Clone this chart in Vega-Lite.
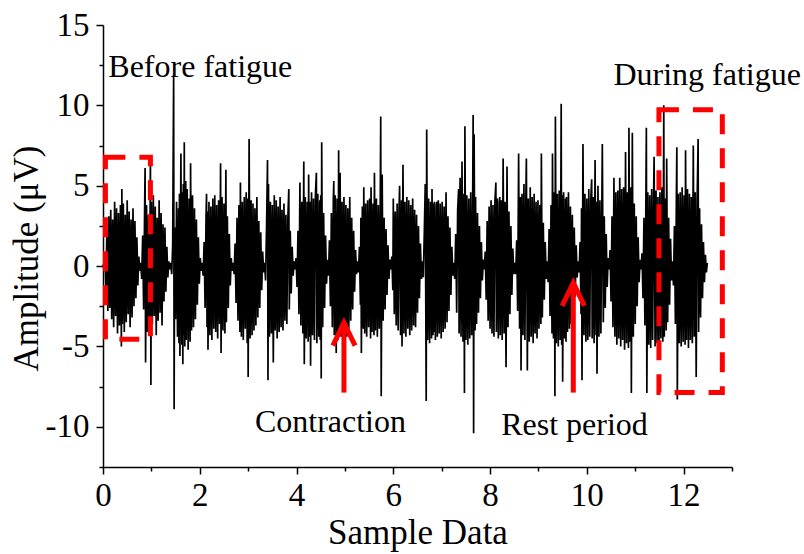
{
"$schema": "https://vega.github.io/schema/vega-lite/v6.json",
"width": 629, "height": 442,
"autosize": {"type": "none"},
"padding": {"left": 103, "top": 25, "right": 72, "bottom": 87},
"config": {"view": {"stroke": null}, "font": "Liberation Serif"},
"datasets": {
"sig": [
{"x":0,"y":0.1},{"x":0.02,"y":-0.2},
{"x":0.04,"y":0.8},{"x":0.06,"y":-1.5},{"x":0.08,"y":2.2},{"x":0.10,"y":-2.8},{"x":0.12,"y":3.1},{"x":0.14,"y":-2.6},{"x":0.16,"y":3.5},{"x":0.18,"y":-3.3},{"x":0.20,"y":2.9},{"x":0.22,"y":-3.8},{"x":0.24,"y":4.0},{"x":0.26,"y":-3.1},{"x":0.28,"y":3.6},{"x":0.30,"y":-4.2},{"x":0.32,"y":3.3},{"x":0.34,"y":-3.7},{"x":0.36,"y":3.8},{"x":0.38,"y":-5.0},{"x":0.39,"y":4.8},{"x":0.40,"y":-3.6},{"x":0.42,"y":3.9},{"x":0.44,"y":-4.1},{"x":0.46,"y":3.2},{"x":0.48,"y":-3.5},{"x":0.50,"y":4.1},{"x":0.52,"y":-3.0},{"x":0.54,"y":3.4},{"x":0.56,"y":-3.8},{"x":0.58,"y":2.9},{"x":0.60,"y":-3.2},{"x":0.62,"y":3.6},{"x":0.64,"y":-2.5},{"x":0.66,"y":2.8},{"x":0.68,"y":-2.0},{"x":0.70,"y":1.8},{"x":0.72,"y":-1.2},{"x":0.74,"y":0.6},{"x":0.76,"y":-0.3},{"x":0.78,"y":0.2},
{"x":0.80,"y":-0.8},{"x":0.82,"y":1.9},{"x":0.84,"y":-2.7},{"x":0.86,"y":3.5},{"x":0.87,"y":6.1},{"x":0.88,"y":-6.0},{"x":0.90,"y":3.8},{"x":0.92,"y":-4.1},{"x":0.94,"y":3.2},{"x":0.96,"y":-3.9},{"x":0.98,"y":6.8},{"x":0.99,"y":-7.4},{"x":1.00,"y":4.0},{"x":1.02,"y":-3.6},{"x":1.04,"y":4.4},{"x":1.06,"y":-3.1},{"x":1.08,"y":3.7},{"x":1.10,"y":-4.3},{"x":1.12,"y":3.0},{"x":1.14,"y":-3.4},{"x":1.16,"y":4.1},{"x":1.18,"y":-2.9},{"x":1.20,"y":3.3},{"x":1.22,"y":-3.7},{"x":1.24,"y":2.6},{"x":1.26,"y":-2.2},{"x":1.28,"y":2.4},{"x":1.30,"y":-1.6},{"x":1.32,"y":1.2},{"x":1.34,"y":-0.7},{"x":1.36,"y":0.3},{"x":1.38,"y":-0.2},{"x":1.40,"y":0.2},
{"x":1.42,"y":-0.5},{"x":1.44,"y":1.3},{"x":1.46,"y":11.9},{"x":1.47,"y":-8.9},{"x":1.48,"y":2.4},{"x":1.50,"y":-3.3},{"x":1.52,"y":4.0},{"x":1.54,"y":-4.4},{"x":1.56,"y":3.6},{"x":1.57,"y":-4.8},{"x":1.58,"y":4.5},{"x":1.59,"y":-5.6},{"x":1.61,"y":7.0},{"x":1.63,"y":-4.9},{"x":1.64,"y":4.6},{"x":1.65,"y":-6.1},{"x":1.66,"y":5.1},{"x":1.67,"y":-4.3},{"x":1.68,"y":7.7},{"x":1.69,"y":-5.0},{"x":1.71,"y":5.3},{"x":1.72,"y":-4.6},{"x":1.74,"y":4.8},{"x":1.76,"y":-5.2},{"x":1.78,"y":4.2},{"x":1.80,"y":-4.7},{"x":1.81,"y":6.4},{"x":1.83,"y":-4.0},{"x":1.85,"y":4.4},{"x":1.87,"y":-3.8},{"x":1.89,"y":3.6},{"x":1.91,"y":-3.3},{"x":1.93,"y":2.9},{"x":1.95,"y":-2.4},{"x":1.97,"y":1.8},{"x":1.99,"y":-1.1},{"x":2.01,"y":0.5},{"x":2.03,"y":-0.3},{"x":2.05,"y":0.2},
{"x":2.07,"y":-0.6},{"x":2.09,"y":1.5},{"x":2.11,"y":-2.6},{"x":2.13,"y":3.2},{"x":2.14,"y":4.5},{"x":2.15,"y":-3.8},{"x":2.16,"y":3.4},{"x":2.17,"y":-5.2},{"x":2.19,"y":4.0},{"x":2.21,"y":-4.3},{"x":2.23,"y":3.7},{"x":2.25,"y":-4.6},{"x":2.27,"y":4.2},{"x":2.29,"y":-3.9},{"x":2.31,"y":4.4},{"x":2.33,"y":-4.1},{"x":2.35,"y":3.8},{"x":2.37,"y":-4.5},{"x":2.39,"y":4.1},{"x":2.41,"y":-3.6},{"x":2.43,"y":6.4},{"x":2.44,"y":-5.4},{"x":2.46,"y":4.3},{"x":2.48,"y":-4.0},{"x":2.50,"y":3.9},{"x":2.52,"y":-4.2},{"x":2.54,"y":6.0},{"x":2.55,"y":-3.5},{"x":2.57,"y":3.1},{"x":2.59,"y":-2.6},{"x":2.61,"y":2.0},{"x":2.63,"y":-1.2},{"x":2.65,"y":0.5},{"x":2.67,"y":-0.3},{"x":2.69,"y":0.2},
{"x":2.71,"y":-0.5},{"x":2.73,"y":1.4},{"x":2.75,"y":-2.3},{"x":2.77,"y":3.0},{"x":2.79,"y":-3.4},{"x":2.81,"y":3.8},{"x":2.83,"y":-4.1},{"x":2.84,"y":5.2},{"x":2.86,"y":-4.4},{"x":2.88,"y":4.0},{"x":2.90,"y":-4.6},{"x":2.92,"y":4.3},{"x":2.94,"y":-3.9},{"x":2.96,"y":4.6},{"x":2.98,"y":-4.8},{"x":2.99,"y":4.2},{"x":3.00,"y":-6.9},{"x":3.02,"y":7.9},{"x":3.04,"y":-4.5},{"x":3.06,"y":4.1},{"x":3.08,"y":-4.3},{"x":3.10,"y":3.9},{"x":3.12,"y":-4.0},{"x":3.14,"y":3.6},{"x":3.16,"y":-3.7},{"x":3.18,"y":4.3},{"x":3.20,"y":-3.2},{"x":3.22,"y":2.8},{"x":3.24,"y":-2.6},{"x":3.26,"y":2.1},{"x":3.28,"y":-1.5},{"x":3.30,"y":0.9},{"x":3.32,"y":-0.4},{"x":3.34,"y":0.2},
{"x":3.36,"y":-0.9},{"x":3.38,"y":2.4},{"x":3.40,"y":6.6},{"x":3.41,"y":-7.1},{"x":3.42,"y":5.1},{"x":3.44,"y":-4.4},{"x":3.46,"y":4.0},{"x":3.48,"y":-4.2},{"x":3.50,"y":3.8},{"x":3.52,"y":-6.0},{"x":3.54,"y":4.4},{"x":3.56,"y":-4.0},{"x":3.58,"y":4.1},{"x":3.60,"y":-4.5},{"x":3.62,"y":3.7},{"x":3.64,"y":-4.1},{"x":3.66,"y":4.3},{"x":3.68,"y":-3.8},{"x":3.70,"y":3.5},{"x":3.72,"y":-4.0},{"x":3.74,"y":3.9},{"x":3.76,"y":-3.4},{"x":3.78,"y":3.2},{"x":3.80,"y":-3.6},{"x":3.82,"y":2.9},{"x":3.84,"y":4.8},{"x":3.85,"y":-2.7},{"x":3.87,"y":2.2},{"x":3.89,"y":-1.7},{"x":3.91,"y":1.2},{"x":3.93,"y":-0.6},{"x":3.95,"y":0.3},{"x":3.97,"y":-0.2},
{"x":3.99,"y":0.5},{"x":4.01,"y":-1.3},{"x":4.03,"y":2.2},{"x":4.05,"y":-3.0},{"x":4.07,"y":5.2},{"x":4.09,"y":-3.7},{"x":4.11,"y":4.0},{"x":4.13,"y":-4.2},{"x":4.15,"y":6.5},{"x":4.16,"y":-6.1},{"x":4.18,"y":4.3},{"x":4.20,"y":-4.5},{"x":4.22,"y":4.0},{"x":4.24,"y":-4.7},{"x":4.25,"y":5.7},{"x":4.27,"y":-4.4},{"x":4.28,"y":4.0},{"x":4.29,"y":-6.2},{"x":4.31,"y":4.6},{"x":4.33,"y":-4.3},{"x":4.35,"y":4.2},{"x":4.37,"y":-4.6},{"x":4.39,"y":4.4},{"x":4.41,"y":5.8},{"x":4.42,"y":-4.8},{"x":4.44,"y":4.5},{"x":4.46,"y":-4.4},{"x":4.48,"y":4.1},{"x":4.49,"y":-4.6},{"x":4.50,"y":4.4},{"x":4.51,"y":-7.0},{"x":4.52,"y":7.7},{"x":4.54,"y":-3.8},{"x":4.56,"y":3.3},{"x":4.58,"y":-2.6},{"x":4.60,"y":1.9},{"x":4.62,"y":-1.1},{"x":4.64,"y":0.4},
{"x":4.66,"y":-0.6},{"x":4.68,"y":1.6},{"x":4.70,"y":-2.5},{"x":4.72,"y":3.3},{"x":4.74,"y":-3.8},{"x":4.76,"y":4.1},{"x":4.77,"y":5.3},{"x":4.78,"y":-4.3},{"x":4.80,"y":4.4},{"x":4.82,"y":-5.4},{"x":4.84,"y":4.2},{"x":4.86,"y":-4.6},{"x":4.87,"y":7.2},{"x":4.88,"y":-4.0},{"x":4.90,"y":5.8},{"x":4.92,"y":-4.4},{"x":4.94,"y":4.0},{"x":4.96,"y":-4.7},{"x":4.98,"y":4.3},{"x":5.00,"y":-4.1},{"x":5.02,"y":3.8},{"x":5.04,"y":-4.4},{"x":5.06,"y":3.6},{"x":5.08,"y":-3.9},{"x":5.10,"y":4.3},{"x":5.12,"y":-3.4},{"x":5.14,"y":3.0},{"x":5.16,"y":-2.7},{"x":5.18,"y":2.2},{"x":5.20,"y":-1.6},{"x":5.22,"y":1.0},{"x":5.24,"y":-0.5},{"x":5.26,"y":0.3},
{"x":5.28,"y":-0.4},{"x":5.30,"y":1.2},{"x":5.32,"y":-2.4},{"x":5.33,"y":3.0},{"x":5.34,"y":-5.4},{"x":5.36,"y":3.7},{"x":5.38,"y":-3.9},{"x":5.39,"y":4.9},{"x":5.41,"y":-4.2},{"x":5.43,"y":3.9},{"x":5.45,"y":-4.4},{"x":5.47,"y":4.1},{"x":5.49,"y":-3.8},{"x":5.51,"y":4.2},{"x":5.53,"y":-4.5},{"x":5.54,"y":4.9},{"x":5.56,"y":-4.1},{"x":5.58,"y":3.9},{"x":5.60,"y":-4.3},{"x":5.61,"y":5.8},{"x":5.63,"y":-4.0},{"x":5.65,"y":4.2},{"x":5.67,"y":-4.4},{"x":5.69,"y":3.8},{"x":5.71,"y":-3.9},{"x":5.73,"y":4.0},{"x":5.74,"y":9.3},{"x":5.75,"y":-8.1},{"x":5.77,"y":5.7},{"x":5.79,"y":-3.4},{"x":5.81,"y":3.0},{"x":5.83,"y":-2.7},{"x":5.85,"y":2.3},{"x":5.87,"y":-1.8},{"x":5.89,"y":1.3},{"x":5.91,"y":-0.8},{"x":5.93,"y":0.4},{"x":5.95,"y":-0.2},
{"x":5.97,"y":0.6},{"x":5.99,"y":-1.5},{"x":6.00,"y":4.2},{"x":6.02,"y":-3.0},{"x":6.04,"y":3.4},{"x":6.06,"y":-3.7},{"x":6.08,"y":3.9},{"x":6.10,"y":-4.0},{"x":6.12,"y":3.7},{"x":6.13,"y":5.0},{"x":6.15,"y":-4.3},{"x":6.17,"y":4.1},{"x":6.18,"y":-5.0},{"x":6.20,"y":6.3},{"x":6.22,"y":-4.2},{"x":6.24,"y":4.0},{"x":6.26,"y":-4.4},{"x":6.28,"y":4.3},{"x":6.30,"y":-3.9},{"x":6.32,"y":4.1},{"x":6.34,"y":-4.3},{"x":6.36,"y":3.8},{"x":6.38,"y":-4.0},{"x":6.40,"y":4.2},{"x":6.42,"y":-3.7},{"x":6.44,"y":3.5},{"x":6.46,"y":-3.8},{"x":6.48,"y":3.2},{"x":6.50,"y":-2.9},{"x":6.52,"y":2.5},{"x":6.54,"y":-2.0},{"x":6.56,"y":1.4},{"x":6.58,"y":-0.8},{"x":6.60,"y":0.3},
{"x":6.62,"y":-0.7},{"x":6.64,"y":2.0},{"x":6.66,"y":5.1},{"x":6.68,"y":-8.4},{"x":6.69,"y":8.5},{"x":6.71,"y":-4.6},{"x":6.73,"y":4.2},{"x":6.75,"y":-4.8},{"x":6.77,"y":4.0},{"x":6.79,"y":-4.5},{"x":6.80,"y":4.8},{"x":6.82,"y":-4.3},{"x":6.83,"y":3.9},{"x":6.84,"y":-4.1},{"x":6.85,"y":4.0},{"x":6.87,"y":-4.6},{"x":6.89,"y":3.8},{"x":6.90,"y":4.0},{"x":6.91,"y":-4.4},{"x":6.93,"y":4.1},{"x":6.95,"y":-4.2},{"x":6.97,"y":3.9},{"x":6.99,"y":-4.5},{"x":7.01,"y":4.0},{"x":7.03,"y":-4.1},{"x":7.05,"y":3.7},{"x":7.07,"y":-3.9},{"x":7.09,"y":4.6},{"x":7.11,"y":-3.5},{"x":7.13,"y":3.1},{"x":7.15,"y":-2.8},{"x":7.17,"y":2.4},{"x":7.19,"y":-1.8},{"x":7.21,"y":1.2},{"x":7.23,"y":-0.6},{"x":7.25,"y":0.2},
{"x":7.27,"y":-0.8},{"x":7.29,"y":2.0},{"x":7.31,"y":-2.9},{"x":7.33,"y":3.5},{"x":7.35,"y":4.8},{"x":7.36,"y":-4.2},{"x":7.38,"y":5.5},{"x":7.40,"y":-4.4},{"x":7.42,"y":6.5},{"x":7.44,"y":-4.7},{"x":7.46,"y":4.5},{"x":7.47,"y":-7.9},{"x":7.48,"y":8.7},{"x":7.50,"y":-4.6},{"x":7.52,"y":4.4},{"x":7.54,"y":-4.9},{"x":7.56,"y":4.2},{"x":7.58,"y":-4.5},{"x":7.60,"y":4.6},{"x":7.62,"y":-4.3},{"x":7.64,"y":4.1},{"x":7.65,"y":9.4},{"x":7.66,"y":-10.4},{"x":7.67,"y":8.2},{"x":7.69,"y":-4.0},{"x":7.70,"y":4.3},{"x":7.72,"y":-3.6},{"x":7.74,"y":3.3},{"x":7.76,"y":-2.9},{"x":7.78,"y":2.5},{"x":7.80,"y":-2.0},{"x":7.82,"y":1.5},{"x":7.84,"y":-0.9},{"x":7.86,"y":0.4},{"x":7.88,"y":-0.2},
{"x":7.90,"y":0.9},{"x":7.92,"y":-2.1},{"x":7.94,"y":2.8},{"x":7.96,"y":-3.4},{"x":7.98,"y":3.7},{"x":8.00,"y":-3.9},{"x":8.02,"y":4.1},{"x":8.04,"y":-4.2},{"x":8.06,"y":3.8},{"x":8.08,"y":-4.4},{"x":8.10,"y":4.0},{"x":8.12,"y":5.2},{"x":8.13,"y":-4.1},{"x":8.15,"y":4.2},{"x":8.17,"y":-4.5},{"x":8.19,"y":3.9},{"x":8.20,"y":4.3},{"x":8.21,"y":-4.3},{"x":8.23,"y":4.1},{"x":8.25,"y":-4.6},{"x":8.27,"y":6.7},{"x":8.29,"y":-4.2},{"x":8.31,"y":4.0},{"x":8.33,"y":-6.3},{"x":8.35,"y":6.2},{"x":8.37,"y":-3.8},{"x":8.39,"y":3.4},{"x":8.41,"y":-3.0},{"x":8.43,"y":2.5},{"x":8.45,"y":-1.8},{"x":8.47,"y":1.1},{"x":8.49,"y":-0.5},{"x":8.51,"y":0.2},
{"x":8.53,"y":-0.5},{"x":8.55,"y":1.6},{"x":8.57,"y":-2.8},{"x":8.59,"y":7.0},{"x":8.61,"y":-3.9},{"x":8.63,"y":4.3},{"x":8.64,"y":-6.5},{"x":8.66,"y":4.5},{"x":8.68,"y":-4.3},{"x":8.70,"y":5.1},{"x":8.72,"y":-4.6},{"x":8.74,"y":4.4},{"x":8.75,"y":6.7},{"x":8.77,"y":-6.5},{"x":8.79,"y":4.2},{"x":8.81,"y":-4.7},{"x":8.83,"y":4.9},{"x":8.85,"y":-4.4},{"x":8.87,"y":4.3},{"x":8.89,"y":-4.8},{"x":8.91,"y":4.5},{"x":8.93,"y":-4.2},{"x":8.95,"y":4.0},{"x":8.97,"y":-4.5},{"x":8.99,"y":4.1},{"x":9.01,"y":-3.9},{"x":9.03,"y":3.8},{"x":9.05,"y":-3.6},{"x":9.06,"y":7.0},{"x":9.08,"y":-3.2},{"x":9.10,"y":2.7},{"x":9.12,"y":-2.1},{"x":9.14,"y":1.5},{"x":9.16,"y":-0.8},{"x":9.18,"y":0.3},
{"x":9.20,"y":-1.0},{"x":9.22,"y":2.3},{"x":9.24,"y":-3.1},{"x":9.26,"y":3.8},{"x":9.28,"y":-4.2},{"x":9.29,"y":7.0},{"x":9.31,"y":-4.5},{"x":9.33,"y":4.6},{"x":9.34,"y":-8.1},{"x":9.35,"y":9.3},{"x":9.37,"y":-4.8},{"x":9.39,"y":4.5},{"x":9.41,"y":-5.0},{"x":9.43,"y":4.7},{"x":9.45,"y":-4.6},{"x":9.47,"y":10.1},{"x":9.48,"y":-4.9},{"x":9.49,"y":4.4},{"x":9.50,"y":-7.2},{"x":9.52,"y":4.6},{"x":9.54,"y":-4.5},{"x":9.56,"y":4.2},{"x":9.57,"y":-4.7},{"x":9.58,"y":4.3},{"x":9.60,"y":-4.1},{"x":9.62,"y":4.6},{"x":9.64,"y":-3.9},{"x":9.66,"y":3.7},{"x":9.68,"y":-3.6},{"x":9.70,"y":3.2},{"x":9.72,"y":-2.9},{"x":9.74,"y":2.4},{"x":9.76,"y":-1.9},{"x":9.78,"y":1.3},{"x":9.80,"y":-0.7},{"x":9.82,"y":0.3},
{"x":9.84,"y":-0.4},{"x":9.86,"y":1.5},{"x":9.88,"y":-3.0},{"x":9.89,"y":3.6},{"x":9.90,"y":-7.1},{"x":9.92,"y":7.6},{"x":9.94,"y":-4.3},{"x":9.96,"y":4.5},{"x":9.98,"y":-4.7},{"x":10.00,"y":4.2},{"x":10.02,"y":-4.6},{"x":10.04,"y":4.8},{"x":10.06,"y":-4.4},{"x":10.08,"y":4.1},{"x":10.10,"y":5.4},{"x":10.11,"y":-4.5},{"x":10.13,"y":4.3},{"x":10.15,"y":-4.8},{"x":10.17,"y":6.6},{"x":10.19,"y":-4.3},{"x":10.20,"y":4.0},{"x":10.21,"y":-6.7},{"x":10.23,"y":5.0},{"x":10.25,"y":-4.4},{"x":10.27,"y":4.1},{"x":10.29,"y":-4.2},{"x":10.31,"y":3.9},{"x":10.32,"y":7.6},{"x":10.34,"y":-3.5},{"x":10.36,"y":3.1},{"x":10.38,"y":-2.6},{"x":10.40,"y":2.0},{"x":10.42,"y":-1.3},{"x":10.44,"y":0.5},{"x":10.46,"y":-0.2},
{"x":10.48,"y":1.0},{"x":10.50,"y":-2.2},{"x":10.52,"y":3.1},{"x":10.54,"y":-3.8},{"x":10.56,"y":5.5},{"x":10.58,"y":-4.4},{"x":10.60,"y":4.6},{"x":10.62,"y":-4.9},{"x":10.64,"y":4.7},{"x":10.66,"y":-4.5},{"x":10.68,"y":5.5},{"x":10.70,"y":-5.0},{"x":10.72,"y":4.8},{"x":10.74,"y":-4.6},{"x":10.76,"y":4.9},{"x":10.78,"y":-5.2},{"x":10.80,"y":7.1},{"x":10.82,"y":-4.8},{"x":10.84,"y":4.6},{"x":10.86,"y":-5.1},{"x":10.87,"y":8.6},{"x":10.89,"y":-4.7},{"x":10.91,"y":4.9},{"x":10.92,"y":-7.9},{"x":10.94,"y":8.3},{"x":10.96,"y":-4.4},{"x":10.98,"y":3.9},{"x":11.00,"y":-3.6},{"x":11.02,"y":3.1},{"x":11.04,"y":-2.5},{"x":11.06,"y":1.8},{"x":11.08,"y":-1.0},{"x":11.10,"y":0.4},{"x":11.12,"y":-0.2},
{"x":11.14,"y":0.8},{"x":11.16,"y":-2.0},{"x":11.18,"y":3.0},{"x":11.20,"y":-3.7},{"x":11.22,"y":4.1},{"x":11.23,"y":8.6},{"x":11.24,"y":-7.9},{"x":11.26,"y":4.6},{"x":11.28,"y":-4.9},{"x":11.30,"y":4.4},{"x":11.32,"y":-5.1},{"x":11.34,"y":4.8},{"x":11.36,"y":-4.6},{"x":11.38,"y":4.5},{"x":11.39,"y":6.8},{"x":11.41,"y":-5.0},{"x":11.43,"y":4.7},{"x":11.45,"y":-4.8},{"x":11.47,"y":4.3},{"x":11.49,"y":-5.2},{"x":11.51,"y":4.6},{"x":11.53,"y":-4.5},{"x":11.55,"y":4.9},{"x":11.57,"y":-4.7},{"x":11.59,"y":10.0},{"x":11.60,"y":-4.4},{"x":11.62,"y":4.2},{"x":11.64,"y":-4.0},{"x":11.65,"y":6.7},{"x":11.67,"y":-3.5},{"x":11.69,"y":3.0},{"x":11.71,"y":-2.4},{"x":11.73,"y":1.7},{"x":11.75,"y":-0.9},{"x":11.77,"y":0.3},
{"x":11.79,"y":-1.2},{"x":11.81,"y":2.5},{"x":11.83,"y":-3.6},{"x":11.85,"y":4.2},{"x":11.86,"y":7.4},{"x":11.87,"y":-8.3},{"x":11.89,"y":4.5},{"x":11.91,"y":-4.8},{"x":11.93,"y":4.6},{"x":11.95,"y":-5.0},{"x":11.97,"y":4.9},{"x":11.99,"y":-4.7},{"x":12.01,"y":4.4},{"x":12.03,"y":-4.9},{"x":12.04,"y":7.2},{"x":12.06,"y":-4.6},{"x":12.08,"y":4.8},{"x":12.10,"y":-5.1},{"x":12.12,"y":4.5},{"x":12.14,"y":-4.6},{"x":12.16,"y":4.3},{"x":12.18,"y":-4.8},{"x":12.20,"y":7.5},{"x":12.22,"y":-4.4},{"x":12.24,"y":4.6},{"x":12.26,"y":-6.9},{"x":12.28,"y":4.2},{"x":12.30,"y":7.9},{"x":12.31,"y":-4.1},{"x":12.33,"y":3.6},{"x":12.35,"y":-3.2},{"x":12.37,"y":2.6},{"x":12.39,"y":-2.0},{"x":12.41,"y":1.5},{"x":12.43,"y":-1.0},{"x":12.45,"y":0.7},{"x":12.47,"y":-0.4},{"x":12.49,"y":0.2}
],
"boxes": [{"x":0.05,"x2":0.98,"y":6.77,"y2":-4.55},{"x":11.49,"x2":12.8,"y":9.73,"y2":-7.87}],
"shafts": [{"x":4.98,"y":-3.7,"y2":-7.87},{"x":9.72,"y":-1.2,"y2":-7.87}],
"heads": [{"g":1,"x":4.75,"y":-4.95},{"g":1,"x":4.98,"y":-3.52},{"g":1,"x":5.21,"y":-4.95},{"g":2,"x":9.49,"y":-2.47},{"g":2,"x":9.72,"y":-1.04},{"g":2,"x":9.95,"y":-2.47}],
"notes": [{"x":0.11,"y":11.74,"t":"Before fatigue"},{"x":10.55,"y":11.29,"t":"During fatigue"},{"x":3.14,"y":-10.3,"t":"Contraction"},{"x":8.23,"y":-10.5,"t":"Rest period"}]
},
"encoding": {
"x": {"field":"x","type":"quantitative","scale":{"domain":[0,13],"nice":false,"zero":false},
 "axis":{"title":"Sample Data","values":[0,1,2,3,4,5,6,7,8,9,10,11,12,13],"labelExpr":"datum.value % 2 === 0 ? '' + datum.value : ''","grid":false,"labelOverlap":false,"labelFlush":false,"labelBound":false,
 "domainColor":"black","domainWidth":1.5,"tickColor":"black","tickWidth":1.5,"tickSize":{"condition":{"test":"datum.value % 2 === 0","value":7},"value":4},
 "labelFont":"Liberation Serif","labelFontSize":33,"labelColor":"black","labelPadding":5,
 "titleFont":"Liberation Serif","titleFontSize":35,"titleFontWeight":"normal","titleColor":"black","titlePadding":3}},
"y": {"field":"y","type":"quantitative","scale":{"domain":[-12.5,15],"nice":false,"zero":false},
 "axis":{"title":"Amplitude (μV)","values":[-12.5,-10,-7.5,-5,-2.5,0,2.5,5,7.5,10,12.5,15],"labelExpr":"datum.value % 5 === 0 ? '' + datum.value : ''","grid":false,"labelOverlap":false,"labelFlush":false,"labelBound":false,
 "domainColor":"black","domainWidth":1.5,"tickColor":"black","tickWidth":1.5,"tickSize":{"condition":{"test":"datum.value % 5 === 0","value":7},"value":4},
 "labelFont":"Liberation Serif","labelFontSize":33,"labelColor":"black","labelPadding":7,
 "titleFont":"Liberation Serif","titleFontSize":35,"titleFontWeight":"normal","titleColor":"black","titlePadding":1,"titleY":233}}
},
"layer": [
{"data":{"name":"sig"},"mark":{"type":"line","color":"black","strokeWidth":1.7}},
{"data":{"name":"boxes"},"mark":{"type":"rect","filled":false,"stroke":"#ff0000","strokeWidth":5,"strokeDash":[20,14]},
 "encoding":{"x2":{"field":"x2"},"y2":{"field":"y2"}}},
{"data":{"name":"shafts"},"mark":{"type":"rule","color":"#ff0000","strokeWidth":5},
 "encoding":{"y2":{"field":"y2"}}},
{"data":{"name":"heads"},"mark":{"type":"line","color":"#ff0000","strokeWidth":5,"strokeJoin":"miter"},
 "encoding":{"detail":{"field":"g"}}},
{"data":{"name":"notes"},"mark":{"type":"text","align":"left","baseline":"alphabetic","font":"Liberation Serif","fontSize":32,"color":"black"},
 "encoding":{"text":{"field":"t"}}}
]
}
